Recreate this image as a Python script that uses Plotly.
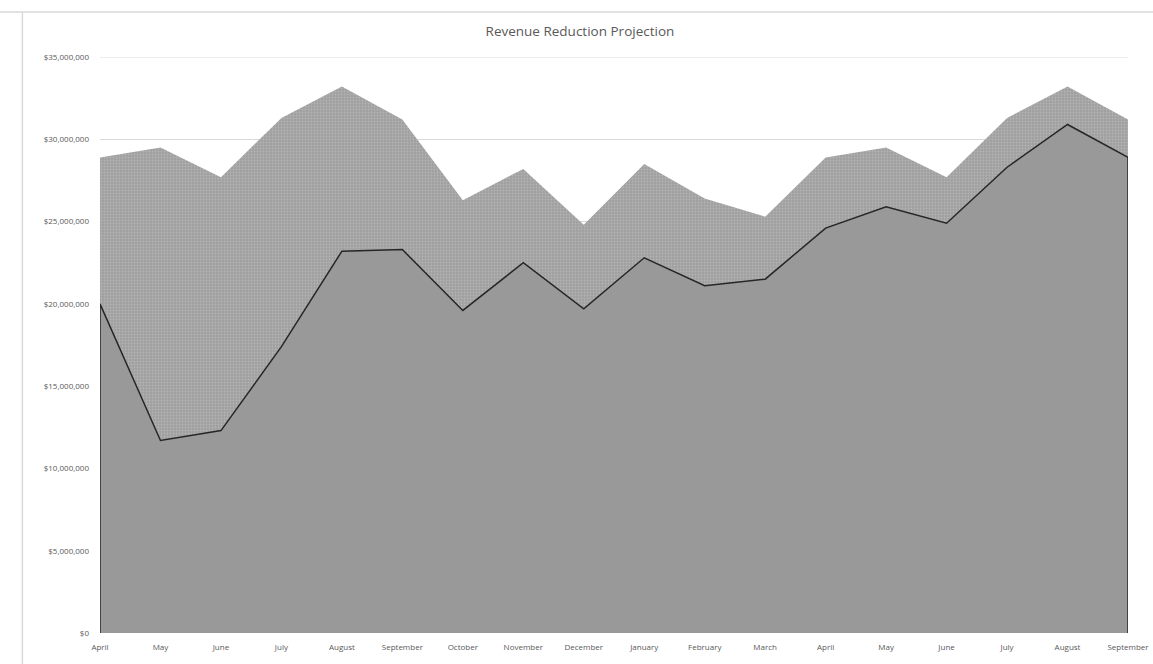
import plotly.graph_objects as go

months = ["April", "May", "June", "July", "August", "September", "October",
          "November", "December", "January", "February", "March",
          "April ", "May ", "June ", "July ", "August ", "September "]
tick_text = ["April", "May", "June", "July", "August", "September", "October",
             "November", "December", "January", "February", "March",
             "April", "May", "June", "July", "August", "September"]

# Projected (reduced) revenue - lower series
reduced_revenue = [20.0, 11.7, 12.3, 17.4, 23.2, 23.3, 19.6, 22.5, 19.7,
                   22.8, 21.1, 21.5, 24.6, 25.9, 24.9, 28.3, 30.9, 28.9]
# Original revenue - top of stacked area
original_revenue = [28.9, 29.5, 27.7, 31.3, 33.2, 31.2, 26.3, 28.2, 24.8,
                    28.5, 26.4, 25.3, 28.9, 29.5, 27.7, 31.3, 33.2, 31.2]

reduced = [v * 1e6 for v in reduced_revenue]
original = [v * 1e6 for v in original_revenue]

y_ticks = [0, 5e6, 10e6, 15e6, 20e6, 25e6, 30e6, 35e6]
y_tick_text = ["$0", "$5,000,000", "$10,000,000", "$15,000,000", "$20,000,000",
               "$25,000,000", "$30,000,000", "$35,000,000"]

fig = go.Figure()

# Upper band (pattern) drawn first, filled to zero
fig.add_trace(go.Scatter(
    x=months, y=original, mode="lines",
    line=dict(width=0, color="#a8a8a8"),
    fill="tozeroy",
    fillcolor="#a6a6a6",
    fillpattern=dict(shape=".", bgcolor="#a0a0a0", fgcolor="#c8c8c8",
                     size=3, solidity=0.3),
    hoverinfo="skip", showlegend=False,
))

# Lower series as closed polygon with dark outline
fig.add_trace(go.Scatter(
    x=[months[0]] + months + [months[-1]],
    y=[0] + reduced + [0],
    mode="lines",
    line=dict(width=1.5, color="#262626"),
    fill="toself", fillcolor="#999999",
    showlegend=False,
))

fig.update_layout(
    width=1153, height=664,
    margin=dict(l=100, r=25, t=57, b=31, autoexpand=False),
    paper_bgcolor="white", plot_bgcolor="white",
    title=dict(text="Revenue Reduction Projection", x=0.503, xanchor="center",
               y=0.953, yanchor="middle",
               font=dict(family="Open Sans", size=13.5, color="#595959")),
    font=dict(family="Open Sans", size=8, color="#595959"),
    xaxis=dict(type="category", range=[0, len(months) - 1],
               tickvals=months, ticktext=tick_text, automargin=False,
               showgrid=False, showline=False, zeroline=False,
               ticks="", ticklabelstandoff=8,
               tickfont=dict(size=8, color="#595959")),
    yaxis=dict(range=[0, 35e6], tickvals=y_ticks, ticktext=y_tick_text,
               showgrid=True, gridcolor="#d9d9d9", gridwidth=1,
               zeroline=False, showline=False, ticks="", automargin=False,
               ticklabelstandoff=10,
               tickfont=dict(size=8, color="#595959")),
    shapes=[
        dict(type="line", xref="paper", yref="paper",
             x0=-0.0985, x1=1.03, y0=1.078, y1=1.078,
             line=dict(color="#d9d9d9", width=1.5)),
        dict(type="line", xref="paper", yref="paper",
             x0=-0.0755, x1=-0.0755, y0=1.078, y1=-0.06,
             line=dict(color="#d9d9d9", width=1.5)),
        dict(type="line", xref="paper", yref="y", layer="below",
             x0=0, x1=1, y0=35e6, y1=35e6,
             line=dict(color="#d9d9d9", width=1)),
    ],
)

fig.write_html("out.html")
